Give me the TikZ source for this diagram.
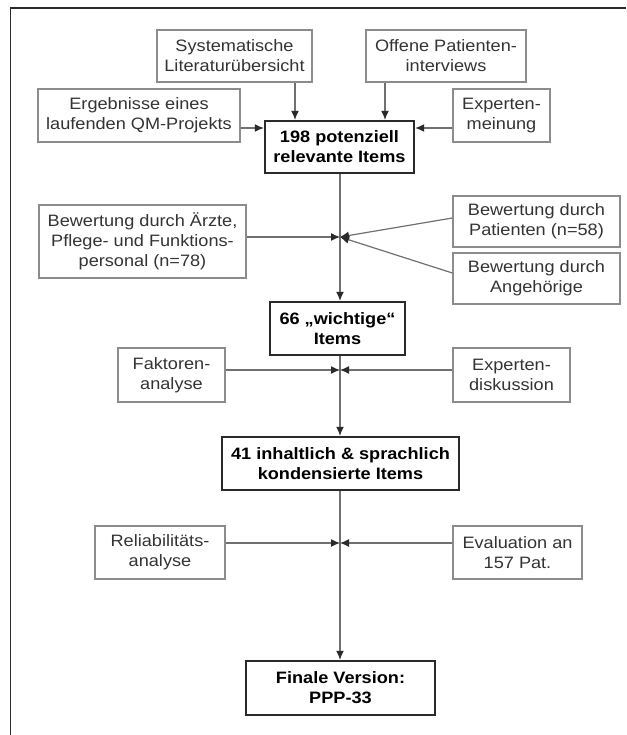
\documentclass[tikz,border=0pt]{standalone}
\usepackage{fontspec}
\setmainfont{Liberation Sans}[FakeStretch=1.1]
\usepackage{pgf}
\usepackage{tikz}
\usetikzlibrary{arrows.meta}
\definecolor{framegray}{HTML}{2A2A2A}
\definecolor{boxgray}{HTML}{8C8C8C}
\definecolor{linegray}{HTML}{707070}
\definecolor{textgray}{HTML}{333333}

\begin{document}
\begin{tikzpicture}[x=1pt,y=-1pt]
            \tikzstyle{source}=[draw=boxgray,line width=1.3pt,text=textgray,align=center,inner sep=0pt,minimum height=52pt,font=\fontsize{16.5}{20}\selectfont]
            \tikzstyle{stage}=[source,draw=framegray,line width=2.4pt,text=black,font=\fontsize{16.5}{20}\selectfont\bfseries]
            \tikzstyle{feed}=[draw=linegray,line width=1.2pt,-{Latex[length=9pt,width=8pt,color=framegray]}]
            \useasboundingbox (0,0) rectangle (626,735);
            \draw[framegray,line width=1.6pt] (626,8) -- (10.5,8) -- (10.5,735);
            \node[source,minimum width=155pt] (sys) at (234.5,56) {Systematische\\Literaturübersicht};
            \node[source,minimum width=160pt] (off) at (446,56) {Offene Patienten-\\interviews};
            \node[source,minimum width=202pt,minimum height=53pt] (erg) at (139,115.5) {Ergebnisse eines\\laufenden QM-Projekts};
            \node[source,minimum width=97pt,minimum height=53pt] (expm) at (501.5,115.5) {Experten-\\meinung};
            \node[stage,minimum width=149pt] (i198) at (339.5,147) {198 potenziell\\relevante Items};
            \node[source,minimum width=207pt,minimum height=73pt] (aerzte) at (142.5,241.5) {Bewertung durch Ärzte,\\Pflege- und Funktions-\\personal (n=78)};
            \node[source,minimum width=167pt,minimum height=51pt] (pat) at (536.5,221.5) {Bewertung durch\\Patienten (n=58)};
            \node[source,minimum width=167pt,minimum height=51pt] (ang) at (536.5,278.5) {Bewertung durch\\Angehörige};
            \node[stage,minimum width=135pt,minimum height=53pt] (i66) at (337.5,328.5) {66 „wichtige“\\Items};
            \node[source,minimum width=107pt,minimum height=54pt] (fak) at (171.5,375) {Faktoren-\\analyse};
            \node[source,minimum width=117pt,minimum height=54pt] (expd) at (511.5,375) {Experten-\\diskussion};
            \node[stage,minimum width=237pt,minimum height=53pt] (i41) at (340.5,463.5) {41 inhaltlich \& sprachlich\\kondensierte Items};
            \node[source,minimum width=130pt,minimum height=53pt] (rel) at (160,552.5) {Reliabilitäts-\\analyse};
            \node[source,minimum width=129pt,minimum height=53pt] (eval) at (517.5,552.5) {Evaluation an\\157 Pat.};
            \node[stage,minimum width=189pt,minimum height=54pt] (final) at (340.5,688) {Finale Version:\\PPP-33};
            \coordinate (j1) at (340,237);
            \coordinate (j2) at (340,370);
            \coordinate (j3) at (340,543);
            \draw[feed] ([xshift=60.5pt]sys.south) -- ([xshift=60.5pt]sys.south |- i198.north);
            \draw[feed] ([xshift=-61pt]off.south) -- ([xshift=-61pt]off.south |- i198.north);
            \draw[feed] ([yshift=-12.5pt]erg.east) -- ([yshift=-12.5pt]erg.east -| i198.west);
            \draw[feed] ([yshift=-12.5pt]expm.west) -- ([yshift=-12.5pt]expm.west -| i198.east);
            \draw[feed] (i198.south -| j1) -- (i66.north -| j1);
            \draw[feed] (aerzte.east |- j1) -- (j1);
            \draw[feed] ([yshift=3.5pt]pat.west) -- (j1);
            \draw[feed] ([yshift=5.5pt]ang.west) -- (j1);
            \draw[feed] (i66.south -| j2) -- (i41.north -| j2);
            \draw[feed] (fak.east |- j2) -- (j2);
            \draw[feed] (expd.west |- j2) -- (j2);
            \draw[feed] (i41.south -| j3) -- (final.north -| j3);
            \draw[feed] (rel.east |- j3) -- (j3);
            \draw[feed] (eval.west |- j3) -- (j3);
\end{tikzpicture}
\end{document}
